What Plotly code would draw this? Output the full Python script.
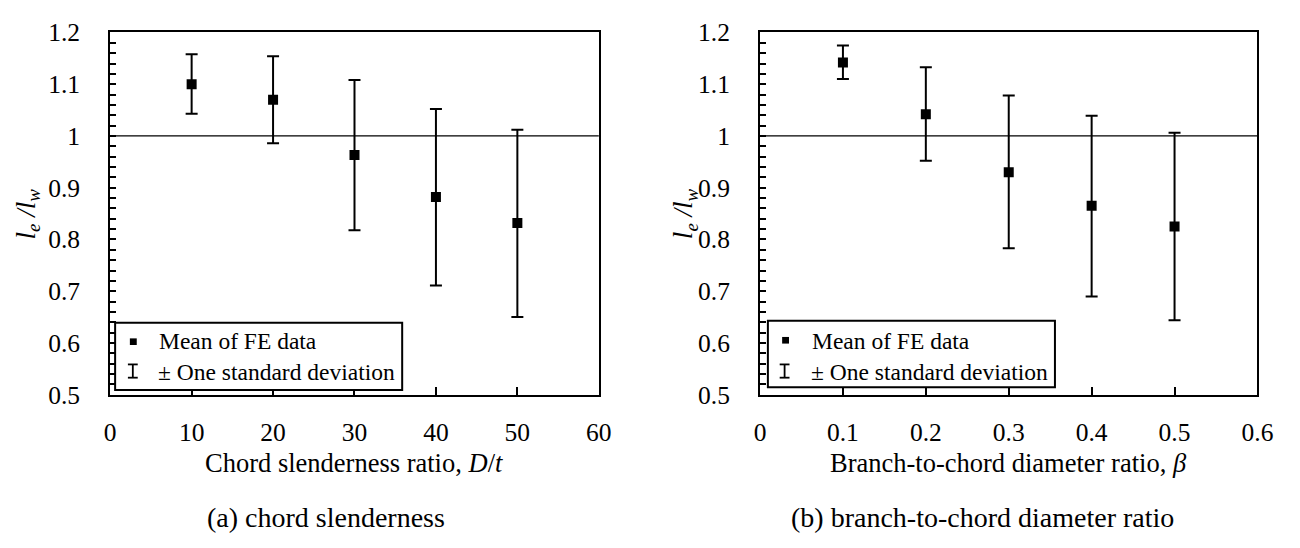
import plotly.graph_objects as go

W, H = 1300, 548

# ---- data ----
dt_ratio = [10, 20, 30, 40, 50]
dt_mean = [1.100, 1.070, 0.963, 0.882, 0.832]
dt_upper = [1.158, 1.154, 1.108, 1.052, 1.012]
dt_lower = [1.043, 0.986, 0.818, 0.711, 0.650]

beta = [0.1, 0.2, 0.3, 0.4, 0.5]
beta_mean = [1.142, 1.042, 0.930, 0.865, 0.825]
beta_upper = [1.175, 1.133, 1.078, 1.039, 1.006]
beta_lower = [1.110, 0.952, 0.783, 0.690, 0.644]

x1_ticks = [0, 10, 20, 30, 40, 50, 60]
x2_ticks = [0, 0.1, 0.2, 0.3, 0.4, 0.5, 0.6]
y_ticks = [0.5, 0.6, 0.7, 0.8, 0.9, 1.0, 1.1, 1.2]

FONT = "Liberation Serif"
TICK_FS = 25.5
LEG_FS = 23.5
TITLE_FS = 26.5
CAP_FS = 28
YT_FS = 27


def fnt(size, style="normal"):
    return dict(family=FONT, size=size, color="black", style=style)


def px(x):
    return x / W


def py(y):
    return 1 - y / H


def errs(mean, up, lo):
    return [u - m for u, m in zip(up, mean)], [m - l for m, l in zip(mean, lo)]


fig = go.Figure()

for xs, m, u, l, xa, ya in [
    (dt_ratio, dt_mean, dt_upper, dt_lower, "x", "y"),
    (beta, beta_mean, beta_upper, beta_lower, "x2", "y2"),
]:
    ep, em = errs(m, u, l)
    fig.add_trace(go.Scatter(
        x=xs, y=m, mode="markers", xaxis=xa, yaxis=ya, showlegend=False,
        marker=dict(symbol="square", size=10, color="black"),
        error_y=dict(type="data", symmetric=False, array=ep, arrayminus=em,
                     color="black", thickness=2, width=6),
    ))

axis_common = dict(
    showline=True, linecolor="black", linewidth=2, mirror=True,
    showgrid=False, zeroline=False, ticks="inside", tickcolor="black",
    tickfont=fnt(TICK_FS),
)

xdom1 = [px(106), px(603)]
xdom2 = [px(767), px(1273)]
ydom = [py(402), py(19.5)]

minor_y = dict(dtick=0.02, ticklen=6, tickwidth=1.5, ticks="inside", tickcolor="black")

fig.update_layout(
    width=W, height=H,
    margin=dict(l=0, r=0, t=0, b=0),
    paper_bgcolor="white", plot_bgcolor="white",
    font=fnt(TITLE_FS),
    xaxis=dict(domain=xdom1, range=[0, 60], tickvals=x1_ticks, ticklen=8, tickwidth=1.5,
               anchor="y", ticklabelstandoff=14, **axis_common),
    yaxis=dict(domain=ydom, range=[0.5, 1.2], tickvals=y_ticks, ticklen=6, tickwidth=1.5,
               anchor="x", ticklabelstandoff=23, minor=minor_y, **axis_common),
    xaxis2=dict(domain=xdom2, range=[0, 0.6], tickvals=x2_ticks, ticklen=8, tickwidth=1.5,
                anchor="y2", ticklabelstandoff=14, **axis_common),
    yaxis2=dict(domain=ydom, range=[0.5, 1.2], tickvals=y_ticks, ticklen=6, tickwidth=1.5,
                anchor="x2", ticklabelstandoff=23, minor=minor_y, **axis_common),
)

shapes = []
annotations = []

# reference line at 1.0
for xr, yr in [("x domain", "y"), ("x2 domain", "y2")]:
    shapes.append(dict(type="line", xref=xr, yref=yr, x0=0, x1=1, y0=1.0, y1=1.0,
                       line=dict(color="black", width=1.2)))

# legends (box, square, I-beam, text)
for (bx0, bx1, by0, by1, sqx, sqy, ix, iy, tx) in [
    (111, 403, 326, 397, 129.5, 346, 129, 377, 154),
    (775, 1067, 324, 394, 793, 344.5, 792, 377, 818),
]:
    shapes.append(dict(type="rect", xref="paper", yref="paper",
                       x0=px(bx0), x1=px(bx1), y0=py(by1), y1=py(by0),
                       line=dict(color="black", width=2), fillcolor="white", layer="above"))
    shapes.append(dict(type="rect", xref="paper", yref="paper",
                       x0=px(sqx - 3.5), x1=px(sqx + 3.5), y0=py(sqy + 3.5), y1=py(sqy - 3.5),
                       line=dict(width=0), fillcolor="black", layer="above"))
    shapes.append(dict(type="line", xref="paper", yref="paper",
                       x0=px(ix), x1=px(ix), y0=py(iy + 7), y1=py(iy - 7),
                       line=dict(color="black", width=1.8), layer="above"))
    for dy in (-7, 7):
        shapes.append(dict(type="line", xref="paper", yref="paper",
                           x0=px(ix - 5), x1=px(ix + 5), y0=py(iy + dy), y1=py(iy + dy),
                           line=dict(color="black", width=1.8), layer="above"))
    annotations.append(dict(text="Mean of FE data", xref="paper", yref="paper",
                            x=px(tx), y=py(345), xanchor="left", yanchor="middle",
                            showarrow=False, font=fnt(LEG_FS)))
    annotations.append(dict(text="\u00b1 One standard deviation", xref="paper", yref="paper",
                            x=px(tx - 1), y=py(378), xanchor="left", yanchor="middle",
                            showarrow=False, font=fnt(LEG_FS)))

# axis titles and captions
ytitle = "l<sub>e</sub> /l<sub>w</sub>"
annotations += [
    dict(text=ytitle, xref="paper", yref="paper", x=px(22), y=py(211), textangle=-90,
         xanchor="center", yanchor="middle", showarrow=False, font=fnt(YT_FS, "italic")),
    dict(text=ytitle, xref="paper", yref="paper", x=px(691), y=py(211), textangle=-90,
         xanchor="center", yanchor="middle", showarrow=False, font=fnt(YT_FS, "italic")),
    dict(text="Chord slenderness ratio, <i>D</i>/<i>t</i>", xref="paper", yref="paper",
         x=px(354), y=py(474), xanchor="center", yanchor="middle", showarrow=False,
         font=fnt(TITLE_FS)),
    dict(text="Branch-to-chord diameter ratio, <i>\u03b2</i>", xref="paper", yref="paper",
         x=px(1020), y=py(474), xanchor="center", yanchor="middle", showarrow=False,
         font=fnt(TITLE_FS)),
    dict(text="(a) chord slenderness", xref="paper", yref="paper",
         x=px(326), y=py(532), xanchor="center", yanchor="middle", showarrow=False,
         font=fnt(CAP_FS)),
    dict(text="(b) branch-to-chord diameter ratio", xref="paper", yref="paper",
         x=px(993), y=py(532), xanchor="center", yanchor="middle", showarrow=False,
         font=fnt(CAP_FS)),
]

fig.update_layout(shapes=shapes, annotations=annotations)
fig.write_html("out.html")
